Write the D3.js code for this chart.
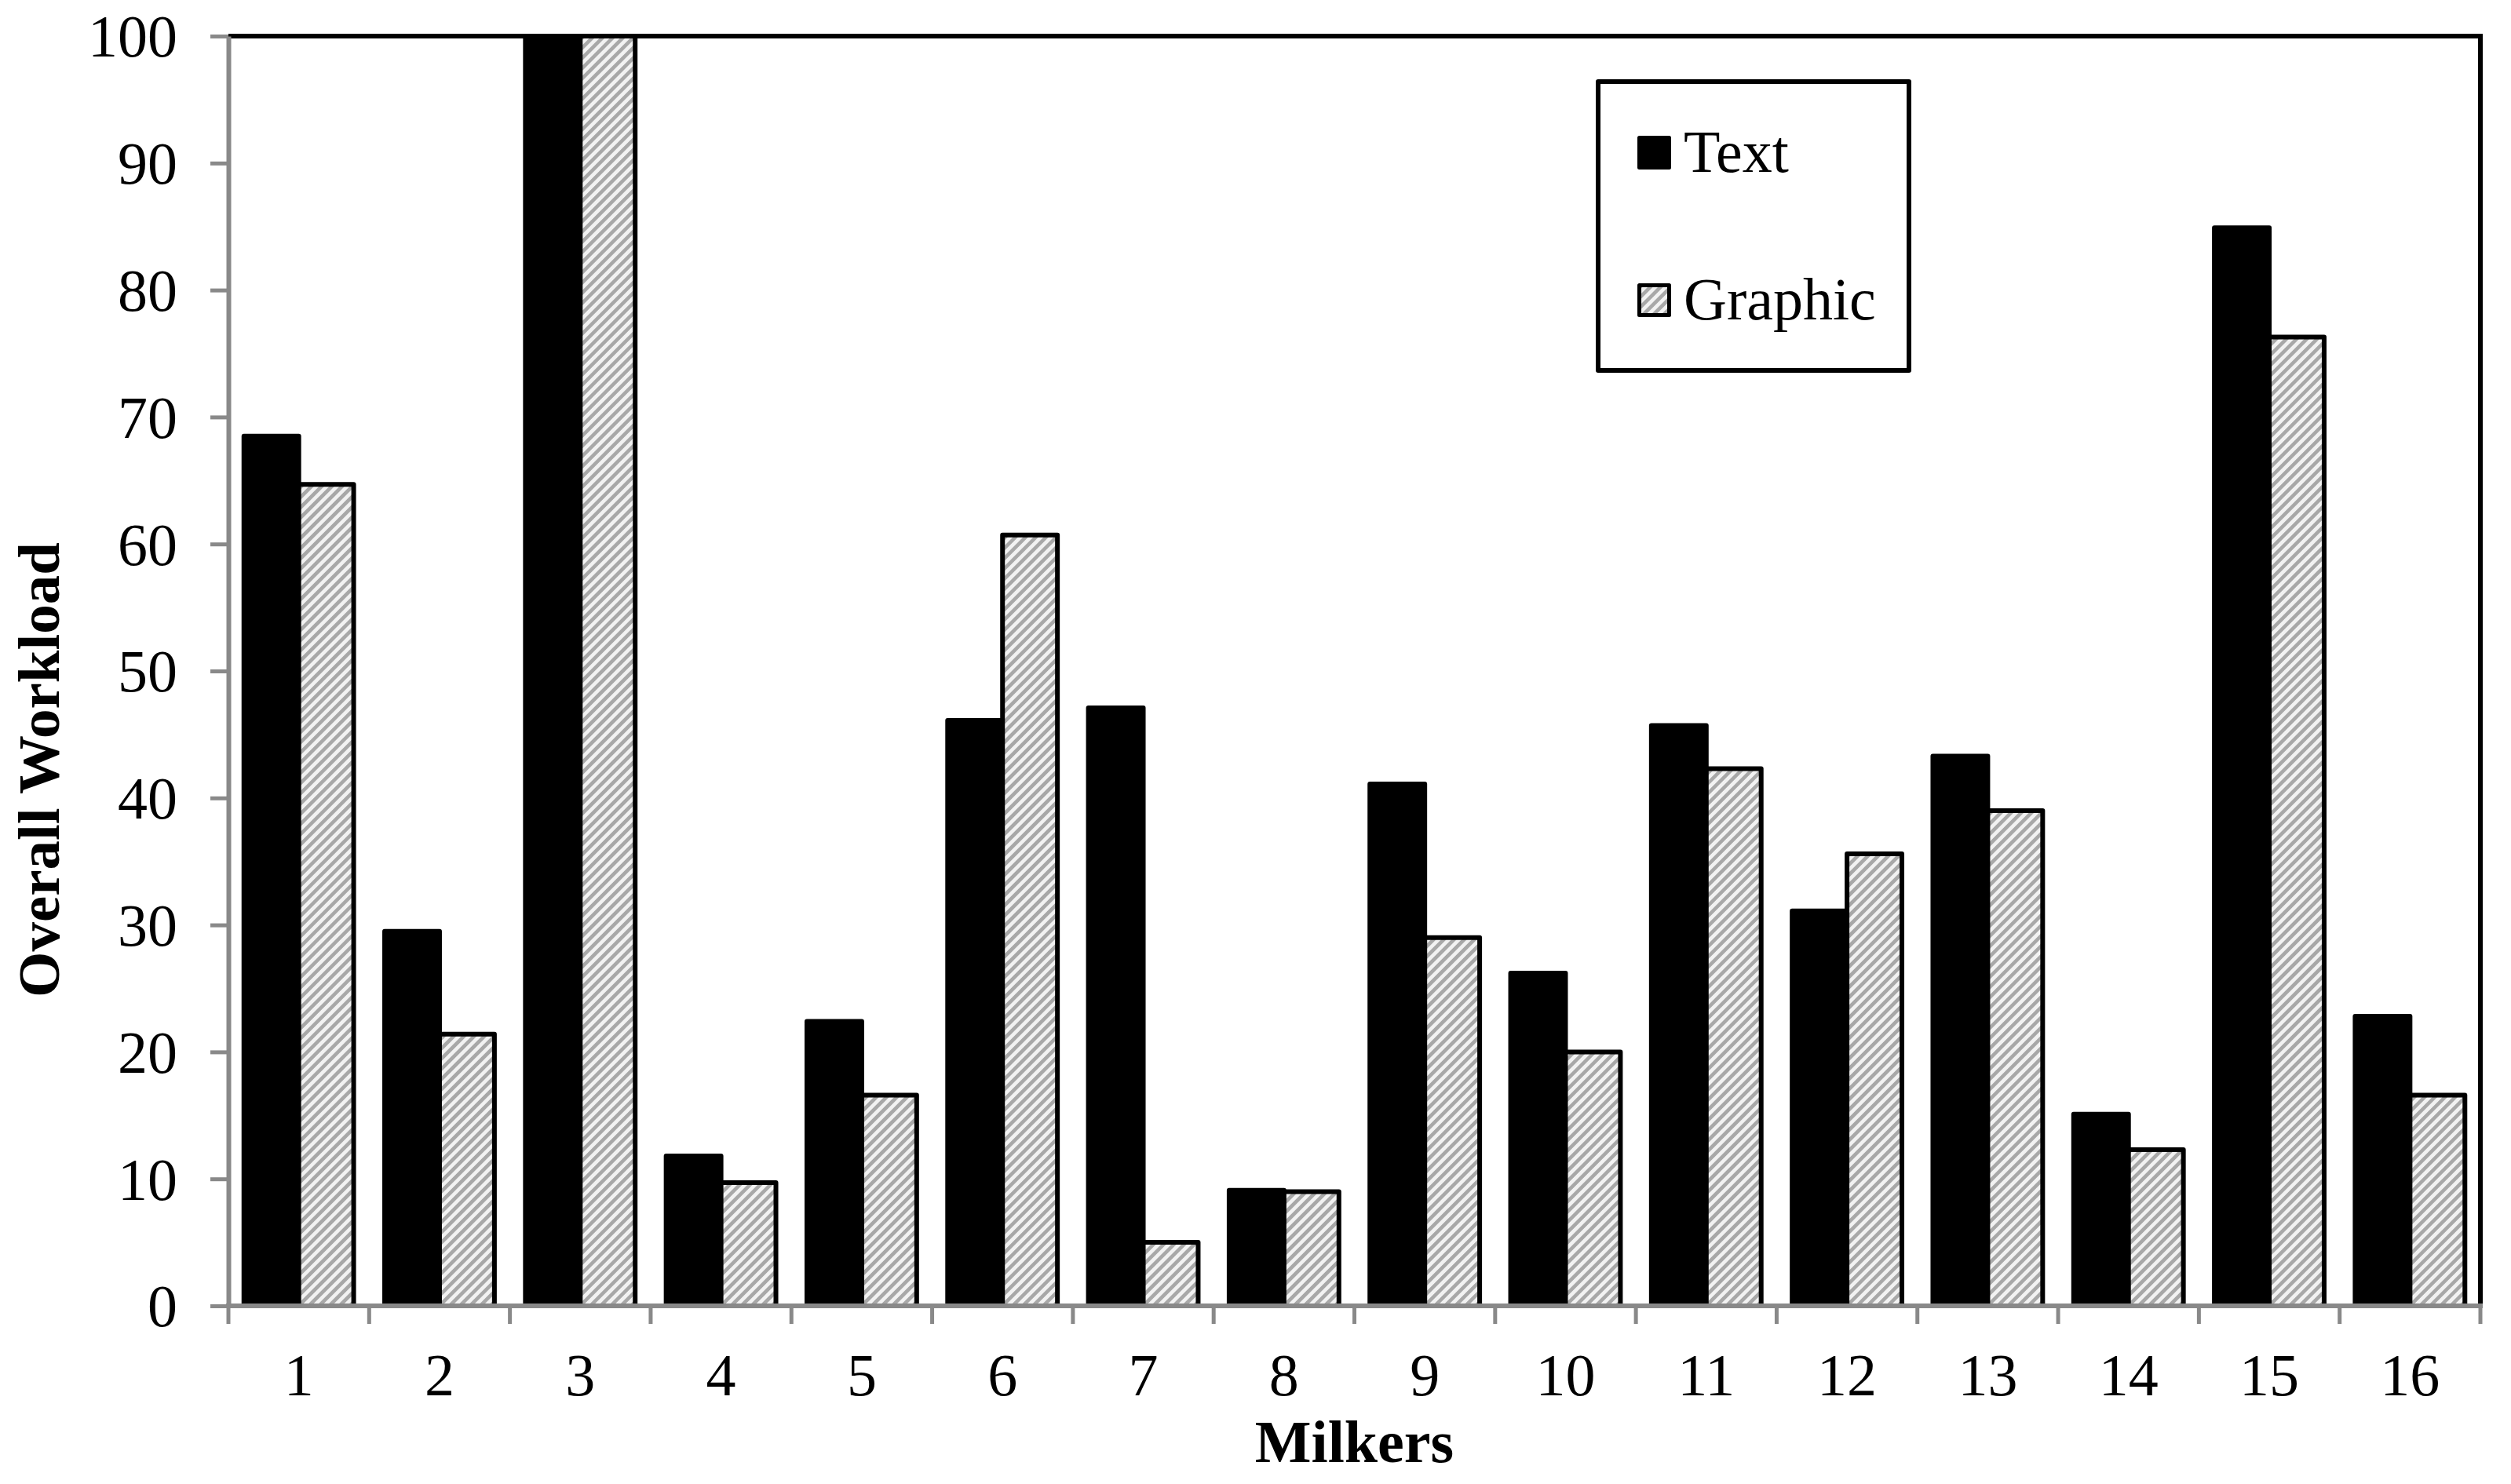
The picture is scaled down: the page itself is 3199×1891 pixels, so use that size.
<!DOCTYPE html>
<html>
<head>
<meta charset="utf-8">
<script src="https://cdn.jsdelivr.net/npm/d3@7"></script>
<style>
  html, body { margin: 0; padding: 0; background: #fff; }
  svg { display: block; }
</style>
</head>
<body>
<svg id="chart" width="3199" height="1891"></svg>
<script>
const milkers = ['1', '2', '3', '4', '5', '6', '7', '8', '9', '10', '11', '12', '13', '14', '15', '16'];
const seriesNames = ['Text', 'Graphic'];
const textValues = [68.5, 29.5, 100, 11.8, 22.4, 46.1, 47.1, 9.1, 41.1, 26.2, 45.7, 31.1, 43.3, 15.1, 84.9, 22.8];
const graphicValues = [64.7, 21.4, 100, 9.7, 16.6, 60.7, 5.0, 9.0, 29.0, 20.0, 42.3, 35.6, 39.0, 12.3, 76.3, 16.6];
const yTicks = [0, 10, 20, 30, 40, 50, 60, 70, 80, 90, 100];

const W = 3199;
const H = 1891;
const margin = { top: 46, right: 39, bottom: 227, left: 291 };
const GREY = '#898989';
const FONT = '"Liberation Serif", "Times New Roman", serif';

const svg = d3.select('#chart');

// hatched fill used by the Graphic series
const defs = svg.append('defs');
const hatch = defs.append('pattern')
  .attr('id', 'hatch')
  .attr('patternUnits', 'userSpaceOnUse')
  .attr('width', 9.2)
  .attr('height', 9.2)
  .attr('patternTransform', 'rotate(45)');
hatch.append('rect').attr('width', 9.2).attr('height', 9.2).attr('fill', '#f2f2f2');
hatch.append('rect').attr('width', 4.6).attr('height', 9.2).attr('fill', '#a8a8a8');

const x = d3.scaleBand()
  .domain(milkers)
  .range([margin.left, W - margin.right])
  .paddingInner(0.22)
  .paddingOuter(0.11);

const xs = d3.scaleBand()
  .domain(seriesNames)
  .range([0, x.bandwidth()]);

const y = d3.scaleLinear()
  .domain([0, 100])
  .range([H - margin.bottom, margin.top]);

const rows = milkers.map((m, i) => ({ m, Text: textValues[i], Graphic: graphicValues[i] }));

// bars
const groups = svg.append('g')
  .selectAll('g')
  .data(rows)
  .join('g')
  .attr('transform', (d) => `translate(${x(d.m)},0)`);

groups.selectAll('rect')
  .data((d) => seriesNames.map((s) => ({ s, v: d[s] })))
  .join('rect')
  .attr('x', (d) => xs(d.s))
  .attr('y', (d) => y(d.v))
  .attr('width', xs.bandwidth())
  .attr('height', (d) => y(0) - y(d.v))
  .attr('fill', (d) => (d.s === 'Text' ? '#000' : 'url(#hatch)'))
  .attr('stroke', '#000')
  .attr('stroke-width', 6)
  .attr('stroke-linejoin', 'round');

// top and right frame
const x0 = margin.left;
const x1 = W - margin.right;
const yTop = y(100);
const yBot = y(0);
svg.append('path')
  .attr('d', `M${x0},${yTop}H${x1}V${yBot}`)
  .attr('fill', 'none')
  .attr('stroke', '#000')
  .attr('stroke-width', 6);

// y axis
const yAxis = svg.append('g')
  .attr('transform', `translate(${x0},0)`)
  .call(d3.axisLeft(y).tickValues(yTicks).tickSize(23).tickSizeOuter(0).tickPadding(42));
yAxis.select('.domain').attr('stroke', GREY).attr('stroke-width', 6);
yAxis.selectAll('.tick line').attr('stroke', GREY).attr('stroke-width', 5);
yAxis.selectAll('.tick text')
  .attr('font-family', FONT)
  .attr('font-size', 76)
  .attr('fill', '#000')
  .attr('dy', '0.34em');

// x axis: line, boundary ticks, labels under the groups
const step = x.step();
const bounds = d3.range(milkers.length + 1).map((i) => x0 + i * step);
svg.append('line')
  .attr('x1', x0 - 3).attr('x2', x1 + 3)
  .attr('y1', yBot).attr('y2', yBot)
  .attr('stroke', GREY).attr('stroke-width', 6);
svg.append('g')
  .selectAll('line')
  .data(bounds)
  .join('line')
  .attr('x1', (d) => d).attr('x2', (d) => d)
  .attr('y1', yBot).attr('y2', yBot + 23)
  .attr('stroke', GREY).attr('stroke-width', 5);

const xAxis = svg.append('g')
  .attr('transform', `translate(0,${yBot})`)
  .call(d3.axisBottom(x).tickSize(0).tickPadding(0));
xAxis.select('.domain').remove();
xAxis.selectAll('.tick text')
  .attr('font-family', FONT)
  .attr('font-size', 76)
  .attr('fill', '#000')
  .attr('y', 114)
  .attr('dy', 0);

// axis titles
svg.append('text')
  .attr('x', (x0 + x1) / 2)
  .attr('y', 1863)
  .attr('text-anchor', 'middle')
  .attr('font-family', FONT)
  .attr('font-weight', 'bold')
  .attr('font-size', 76)
  .text('Milkers');

svg.append('text')
  .attr('transform', 'translate(75,981) rotate(-90)')
  .attr('text-anchor', 'middle')
  .attr('font-family', FONT)
  .attr('font-weight', 'bold')
  .attr('font-size', 75)
  .text('Overall Workload');

// legend
const legend = svg.append('g');
legend.append('rect')
  .attr('x', 2036).attr('y', 104)
  .attr('width', 396).attr('height', 368)
  .attr('fill', '#fff')
  .attr('stroke', '#000')
  .attr('stroke-width', 6)
  .attr('stroke-linejoin', 'round');

const items = legend.selectAll('g.item')
  .data(seriesNames)
  .join('g')
  .attr('class', 'item')
  .attr('transform', (d, i) => `translate(2088.5,${175.5 + i * 188})`);

items.append('rect')
  .attr('width', 38).attr('height', 38)
  .attr('fill', (d) => (d === 'Text' ? '#000' : 'url(#hatch)'))
  .attr('stroke', '#000')
  .attr('stroke-width', 5)
  .attr('stroke-linejoin', 'round');

items.append('text')
  .attr('x', 56.5)
  .attr('y', 43)
  .attr('font-family', FONT)
  .attr('font-size', 76)
  .text((d) => d);
</script>
</body>
</html>
